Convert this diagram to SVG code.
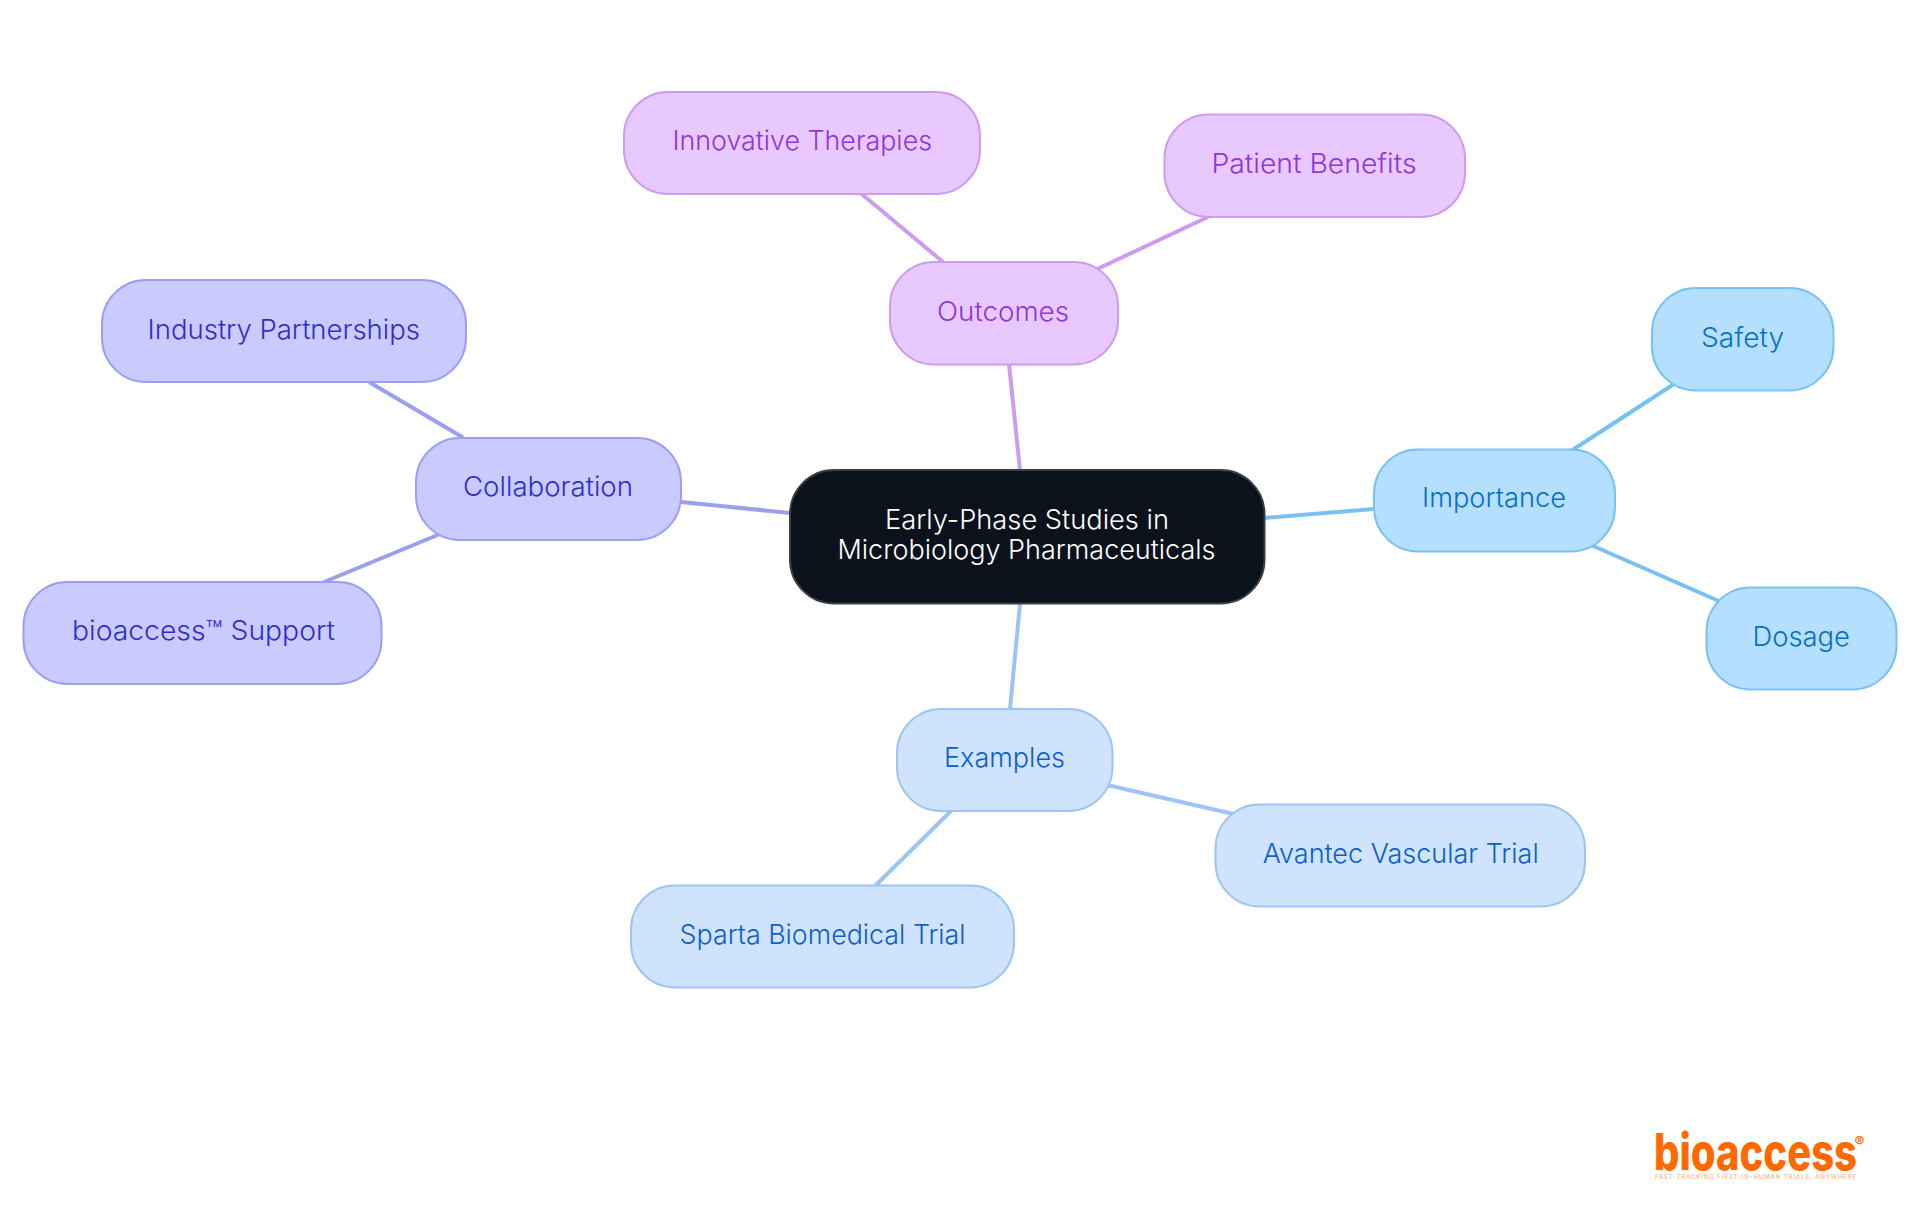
<svg xmlns="http://www.w3.org/2000/svg" width="1920" height="1215" viewBox="0 0 1920 1215">
<style>
text{font-family:"Inter","Noto Sans","Liberation Sans",sans-serif;font-size:27.5px;font-weight:300}
rect{stroke-width:2}
.c line{stroke-width:4;stroke-linecap:butt}
.p rect{fill:#e8c9ff;stroke:#cb9cf0}.p text{fill:#9333db}
.i rect{fill:#c9cbfe;stroke:#9c9ff0}.i text{fill:#2f2fc8}
.s rect{fill:#b5dfff;stroke:#79c1f2}.s text{fill:#0670c4}
.b rect{fill:#cfe3fc;stroke:#9dc4f2}.b text{fill:#0d60c8}
.r rect{fill:#0b121b;stroke:#3a3f46}.r text{fill:#fff;font-size:27px}
.pl{stroke:#cb9cf0}.il{stroke:#9c9ff0}.sl{stroke:#79c1f2}.bl{stroke:#9dc4f2}
.logo{font-weight:800;font-size:42px;fill:#ff6a00}
.reg{font-weight:700;font-size:15px;fill:#ff6a00}
.tag{font-weight:500;font-size:6px;fill:#ffb27a}
</style>
<rect width="1920" height="1215" fill="#fff"/>
<g id="connectors" class="c">
<line class="pl" x1="1009" y1="364" x2="1020" y2="470"/>
<line class="pl" x1="861.7" y1="194" x2="943" y2="262"/>
<line class="pl" x1="1093" y1="271" x2="1208" y2="217"/>
<line class="il" x1="681" y1="502" x2="790" y2="513"/>
<line class="il" x1="369" y1="382" x2="463" y2="437.500"/>
<line class="il" x1="440" y1="534" x2="324" y2="582"/>
<line class="sl" x1="1264" y1="518" x2="1374" y2="509"/>
<line class="sl" x1="1572.500" y1="450" x2="1675.600" y2="383"/>
<line class="sl" x1="1591" y1="545" x2="1718.800" y2="601"/>
<line class="bl" x1="1020" y1="604" x2="1010" y2="709"/>
<line class="bl" x1="1107" y1="785" x2="1233.500" y2="814"/>
<line class="bl" x1="952" y1="810" x2="875" y2="886"/>
</g>
<g id="root" class="r"><rect x="790" y="470" width="474.500" height="133.500" rx="44"/>
<text x="885" y="528.700" textLength="284" lengthAdjust="spacingAndGlyphs">Early-Phase Studies in</text>
<text x="837.500" y="558.700" textLength="378" lengthAdjust="spacingAndGlyphs">Microbiology Pharmaceuticals</text></g>
<g id="outcomes" class="p"><rect x="890" y="262" width="228" height="102.500" rx="44"/><text x="937" y="320.700" textLength="132" lengthAdjust="spacingAndGlyphs">Outcomes</text></g>
<g id="innovative" class="p"><rect x="624" y="92" width="356" height="102" rx="44"/><text x="672.500" y="150" textLength="259.500" lengthAdjust="spacingAndGlyphs">Innovative Therapies</text></g>
<g id="patient" class="p"><rect x="1164.500" y="114.500" width="300.500" height="102.500" rx="44"/><text x="1211.500" y="172.700" textLength="205" lengthAdjust="spacingAndGlyphs">Patient Benefits</text></g>
<g id="collaboration" class="i"><rect x="416" y="438" width="265" height="102" rx="44"/><text x="463" y="496" textLength="170" lengthAdjust="spacingAndGlyphs">Collaboration</text></g>
<g id="industry" class="i"><rect x="102" y="280" width="364" height="102" rx="44"/><text x="147.500" y="338.700" textLength="272.500" lengthAdjust="spacingAndGlyphs">Industry Partnerships</text></g>
<g id="bioaccess-support" class="i"><rect x="23.500" y="582" width="358" height="102" rx="44"/><text x="72" y="640" textLength="263" lengthAdjust="spacingAndGlyphs">bioaccess™ Support</text></g>
<g id="importance" class="s"><rect x="1374" y="449.500" width="241" height="102" rx="44"/><text x="1422" y="507.300" textLength="144" lengthAdjust="spacingAndGlyphs">Importance</text></g>
<g id="safety" class="s"><rect x="1652" y="288" width="181.500" height="102.500" rx="44"/><text x="1701" y="346.700" textLength="83" lengthAdjust="spacingAndGlyphs">Safety</text></g>
<g id="dosage" class="s"><rect x="1706.500" y="587.500" width="190" height="102" rx="44"/><text x="1752.500" y="645.700" textLength="97.500" lengthAdjust="spacingAndGlyphs">Dosage</text></g>
<g id="examples" class="b"><rect x="897" y="709" width="215.500" height="102" rx="44"/><text x="944" y="767" textLength="121" lengthAdjust="spacingAndGlyphs">Examples</text></g>
<g id="avantec" class="b"><rect x="1215.500" y="804.500" width="369.500" height="102" rx="44"/><text x="1262.700" y="862.700" textLength="276" lengthAdjust="spacingAndGlyphs">Avantec Vascular Trial</text></g>
<g id="sparta" class="b"><rect x="631" y="885.500" width="383" height="102" rx="44"/><text x="679.600" y="944" textLength="286" lengthAdjust="spacingAndGlyphs">Sparta Biomedical Trial</text></g>
<g id="logo">
<text class="logo" transform="translate(1654 1170) scale(1 1.22)" textLength="203" lengthAdjust="spacingAndGlyphs">bioaccess</text>
<text class="reg" x="1854.500" y="1147">®</text>
<text class="tag" x="1655" y="1179" textLength="201" lengthAdjust="spacing">FAST-TRACKING FIRST-IN-HUMAN TRIALS, ANYWHERE</text>
</g>
</svg>
